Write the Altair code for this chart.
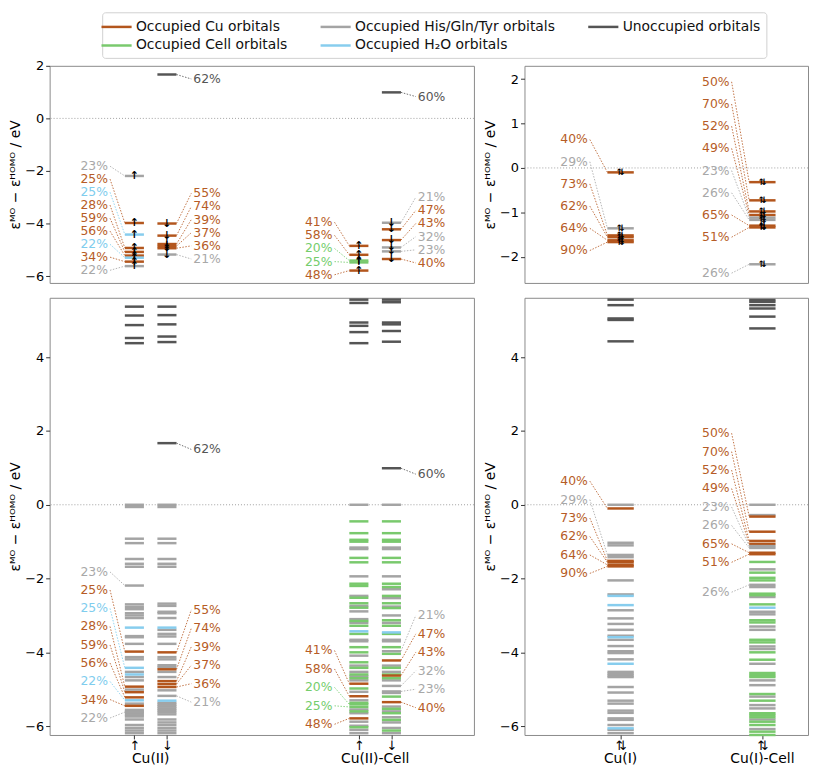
import altair as alt
import pandas as pd

# ---------------- categories & colours (legend order = matplotlib column order) ----------------
CATS = ["Occupied Cu orbitals", "Occupied Cell orbitals", "Occupied His/Gln/Tyr orbitals",
        "Occupied H\u2082O orbitals", "Unoccupied orbitals"]
LINE_COLORS = ["#b3561d", "#79c96d", "#a4a4a4", "#87cdee", "#555555"]
TEXT_COLORS = ["#b65c26", "#74cd6c", "#a8a8a8", "#7fcdee", "#555555"]
CAT = {"cu": CATS[0], "cell": CATS[1], "his": CATS[2], "h2o": CATS[3], "un": CATS[4]}

# ---------------- Cu(II) spin-up ----------------
cu2_up_un = [5.37, 5.13, 4.87, 4.52, 4.38]
cu2_up_his = [0.0, -0.06, -0.92, -1.04, -1.47, -1.60, -1.68, -2.70, -2.77, -2.83, -2.94,
              -3.00, -3.07, -3.56, -3.59, -3.77, -4.13, -4.19, -4.53, -4.67, -4.76, -5.01,
              -5.39, -5.56, -5.60, -5.65, -5.70, -5.74, -5.82, -5.97, -6.05, -6.12, -6.19]
cu2_up_h2o = [-3.33, -4.60]
cu2_up_lab_e = [-2.19, -3.98, -4.42, -4.93, -5.08, -5.22, -5.30, -5.45, -5.62]
cu2_up_lab_cat = ["his", "cu", "h2o", "cu", "cu", "cu", "h2o", "cu", "his"]
cu2_up_lab_txt = ["23%", "25%", "25%", "28%", "59%", "56%", "22%", "34%", "22%"]
cu2_up_lab_y = [-1.82, -2.31, -2.81, -3.30, -3.80, -4.29, -4.79, -5.28, -5.78]

# ---------------- Cu(II) spin-down ----------------
cu2_dn_un = [5.37, 5.14, 4.89, 4.56, 4.41]
cu2_dn_his = [0.0, -0.06, -0.92, -1.04, -1.47, -1.60, -1.68, -2.68, -2.74, -2.90, -2.94,
              -3.07, -3.39, -3.50, -3.57, -3.77, -4.13, -4.19, -4.35, -4.40, -4.53, -4.67,
              -5.03, -5.37, -5.42, -5.47, -5.52, -5.57, -5.62, -5.68, -5.82, -5.90, -5.97,
              -6.05, -6.12, -6.19]
cu2_dn_h2o = [-3.33, -5.31]
cu2_dn_lab_e = [1.67, -4.00, -4.46, -4.78, -4.86, -4.94, -5.18]
cu2_dn_lab_cat = ["un", "cu", "cu", "cu", "cu", "cu", "his"]
cu2_dn_lab_txt = ["62%", "55%", "74%", "39%", "37%", "36%", "21%"]
cu2_dn_lab_y = [1.50, -2.85, -3.35, -3.85, -4.35, -4.85, -5.35]

# ---------------- Cu(II)-Cell spin-up ----------------
cc2_up_un = [5.56, 5.47, 4.94, 4.85, 4.68, 4.38]
cc2_up_his = [0.0, -1.16, -1.20, -1.94, -2.47, -2.74, -2.89, -3.10, -3.20, -3.66, -3.70,
              -4.09, -4.36, -4.53, -4.65, -4.76, -5.07, -5.30, -5.55, -5.65, -5.88, -5.99,
              -6.10, -6.19]
cc2_up_cell = [-0.45, -0.77, -0.95, -1.00, -1.44, -1.56, -2.14, -2.20, -2.52, -2.67, -2.79,
               -3.15, -3.28, -3.50, -3.86, -4.00, -4.27, -4.42, -4.60, -4.70, -4.98, -5.37,
               -5.60, -6.03]
cc2_up_h2o = [-3.43]
cc2_up_lab_e = [-4.85, -5.19, -5.41, -5.48, -5.79]
cc2_up_lab_cat = ["cu", "cu", "cell", "cell", "cu"]
cc2_up_lab_txt = ["41%", "58%", "20%", "25%", "48%"]
cc2_up_lab_y = [-3.95, -4.45, -4.95, -5.45, -5.95]

# ---------------- Cu(II)-Cell spin-down ----------------
cc2_dn_un = [5.56, 5.49, 4.94, 4.89, 4.71, 4.42]
cc2_dn_his = [0.0, -1.16, -1.20, -1.94, -2.29, -2.53, -2.76, -3.00, -3.20, -3.66, -3.70,
              -4.36, -4.53, -4.76, -5.10, -5.47, -5.60, -5.76, -5.90, -6.05, -6.19]
cc2_dn_cell = [-0.45, -0.77, -0.95, -1.00, -1.44, -1.56, -2.14, -2.23, -2.47, -2.67, -2.80,
               -3.13, -3.28, -3.50, -3.86, -4.04, -4.42, -4.60, -4.70, -5.20, -5.53, -5.65,
               -5.83, -6.12]
cc2_dn_h2o = [-3.46]
cc2_dn_lab_e = [0.99, -3.97, -4.22, -4.63, -4.91, -5.06, -5.35]
cc2_dn_lab_cat = ["un", "his", "cu", "cu", "his", "his", "cu"]
cc2_dn_lab_txt = ["60%", "21%", "47%", "43%", "32%", "23%", "40%"]
cc2_dn_lab_y = [0.83, -3.00, -3.50, -4.00, -4.50, -5.00, -5.50]

# ---------------- Cu(I) ----------------
cu1_un = [5.56, 5.41, 5.05, 5.01, 4.43]
cu1_his = [0.0, -1.03, -1.10, -1.42, -2.05, -2.43, -2.86, -3.08, -3.23, -3.39, -3.55, -3.66,
           -3.83, -3.97, -4.02, -4.19, -4.53, -4.58, -4.63, -4.67, -4.94, -5.09, -5.31,
           -5.39, -5.58, -5.64, -5.79, -5.83, -5.97, -6.10, -6.19]
cu1_h2o = [-2.47, -2.72, -3.59, -4.31, -6.06]
cu1_lab_e = [-0.10, -1.36, -1.52, -1.56, -1.63, -1.67]
cu1_lab_cat = ["cu", "his", "cu", "cu", "cu", "cu"]
cu1_lab_txt = ["40%", "29%", "73%", "62%", "64%", "90%"]
cu1_lab_y = [0.64, 0.14, -0.36, -0.86, -1.36, -1.86]

# ---------------- Cu(I)-Cell ----------------
cc1_un = [5.55, 5.50, 5.41, 5.32, 5.10, 4.78]
cc1_his = [0.0, -0.28, -1.75, -2.23, -2.50, -2.90, -2.97, -3.30, -3.39, -3.84, -3.91, -4.31,
           -4.76, -4.89, -5.20, -5.43, -5.52, -5.82, -6.08]
cc1_cell = [-1.55, -1.84, -1.98, -2.05, -2.41, -2.45, -2.70, -3.13, -3.19, -3.66, -3.73,
            -4.00, -4.20, -4.56, -4.62, -4.67, -5.13, -5.31, -5.65, -5.70, -5.76, -5.88,
            -5.97, -6.15, -6.24]
cc1_h2o = [-2.79]
cc1_lab_e = [-0.32, -0.73, -0.98, -1.06, -1.12, -1.17, -1.30, -1.34, -2.17]
cc1_lab_cat = ["cu", "cu", "cu", "cu", "his", "his", "cu", "cu", "his"]
cc1_lab_txt = ["50%", "70%", "52%", "49%", "23%", "26%", "65%", "51%", "26%"]
cc1_lab_y = [1.94, 1.44, 0.94, 0.44, -0.06, -0.56, -1.06, -1.56, -2.37]

# ---------------- column layout ----------------
LEFT_COLS = [
    dict(x=0.855, side="left", arrow="\u2191",
         groups=[("his", cu2_up_his), ("h2o", cu2_up_h2o), ("un", cu2_up_un)],
         lab=(cu2_up_lab_e, cu2_up_lab_cat, cu2_up_lab_txt, cu2_up_lab_y)),
    dict(x=1.145, side="right", arrow="\u2193",
         groups=[("his", cu2_dn_his), ("h2o", cu2_dn_h2o), ("un", cu2_dn_un)],
         lab=(cu2_dn_lab_e, cu2_dn_lab_cat, cu2_dn_lab_txt, cu2_dn_lab_y)),
    dict(x=2.855, side="left", arrow="\u2191",
         groups=[("his", cc2_up_his), ("cell", cc2_up_cell), ("h2o", cc2_up_h2o), ("un", cc2_up_un)],
         lab=(cc2_up_lab_e, cc2_up_lab_cat, cc2_up_lab_txt, cc2_up_lab_y)),
    dict(x=3.145, side="right", arrow="\u2193",
         groups=[("his", cc2_dn_his), ("cell", cc2_dn_cell), ("h2o", cc2_dn_h2o), ("un", cc2_dn_un)],
         lab=(cc2_dn_lab_e, cc2_dn_lab_cat, cc2_dn_lab_txt, cc2_dn_lab_y)),
]
RIGHT_COLS = [
    dict(x=1.0, side="left", arrow="\u21c5",
         groups=[("his", cu1_his), ("h2o", cu1_h2o), ("un", cu1_un)],
         lab=(cu1_lab_e, cu1_lab_cat, cu1_lab_txt, cu1_lab_y)),
    dict(x=2.0, side="left", arrow="\u21c5",
         groups=[("his", cc1_his), ("cell", cc1_cell), ("h2o", cc1_h2o), ("un", cc1_un)],
         lab=(cc1_lab_e, cc1_lab_cat, cc1_lab_txt, cc1_lab_y)),
]
LEFT_GROUPS = pd.DataFrame({"x": [1.0, 3.0], "t": ["Cu(II)", "Cu(II)-Cell"]})
RIGHT_GROUPS = pd.DataFrame({"x": [1.0, 2.0], "t": ["Cu(I)", "Cu(I)-Cell"]})

YTITLE = "\u03b5\u1d39\u1d3c \u2212 \u03b5\u1d34\u1d3c\u1d39\u1d3c / eV"
FONT = "DejaVu Sans"

STROKE_SCALE = alt.Scale(domain=CATS, range=LINE_COLORS)
TEXT_SCALE = alt.Scale(domain=CATS, range=TEXT_COLORS)
LEGEND = alt.Legend(title=None, orient="none", legendX=53, legendY=-54, columns=3,
                    direction="vertical",
                    symbolType="M-1.9,0H1.9", symbolStrokeWidth=2.5, symbolSize=256,
                    labelFontSize=14, labelFont=FONT, labelColor="#111111", labelLimit=400,
                    labelOffset=10, columnPadding=28, rowPadding=2, padding=5,
                    strokeColor="#d0d0d0", fillColor="white", cornerRadius=3)


def build(cols, hw, off_txt, off_con, top):
    lev, lab_l, lab_r, con, arr = [], [], [], [], []
    if not top:
        for c in cols:
            for key, vals in c["groups"]:
                for e in vals:
                    lev.append(dict(x=c["x"] - hw, x2=c["x"] + hw, e=e, cat=CAT[key]))
    for c in cols:
        x = c["x"]
        le, lc, lt, ly = c["lab"]
        for e, k, t, y in zip(le, lc, lt, ly):
            lev.append(dict(x=x - hw, x2=x + hw, e=e, cat=CAT[k]))
            if c["side"] == "left":
                lab_l.append(dict(x=x - off_txt, y=y, t=t, cat=CAT[k]))
                con.append(dict(x=x - off_con, y=y, x2=x - hw, y2=e, cat=CAT[k]))
            else:
                lab_r.append(dict(x=x + off_txt, y=y, t=t, cat=CAT[k]))
                con.append(dict(x=x + hw, y=e, x2=x + off_con, y2=y, cat=CAT[k]))
            if top and k != "un":
                arr.append(dict(x=x, e=e, a=c["arrow"]))
    return lev, lab_l, lab_r, con, arr


def panel(cols, hw, off_txt, off_con, top, xdom, ydom, yticks, w, h, label_expr, groups, arrow_size):
    lev, lab_l, lab_r, con, arr = build(cols, hw, off_txt, off_con, top)
    xs = alt.Scale(domain=xdom, nice=False, zero=False)
    ys = alt.Scale(domain=ydom, nice=False, zero=False)
    yaxis = alt.Axis(values=yticks, title=YTITLE, grid=False, domain=False, tickSize=4,
                     labelPadding=2, titlePadding=2, labelColor="black")
    if top:
        xaxis = None
    else:
        xaxis = alt.Axis(values=[c["x"] for c in cols], labelExpr=label_expr, title=None,
                         grid=False, domain=False, tickSize=4, labelPadding=1,
                         labelAngle=0, labelFontSize=13, labelColor="black",
                         tickColor="#333333")

    def X(f):
        return alt.X(f, scale=xs, axis=xaxis)

    def Y(f):
        return alt.Y(f, scale=ys, axis=yaxis)

    layers = []
    layers.append(alt.Chart(pd.DataFrame({"y": [0.0]})).mark_rule(
        color="#a0a0a0", strokeDash=[1, 2], strokeWidth=1).encode(y=Y("y:Q")))
    layers.append(alt.Chart(pd.DataFrame(lev)).mark_rule(strokeWidth=2.5).encode(
        x=X("x:Q"), x2="x2:Q", y=Y("e:Q"),
        stroke=alt.Stroke("cat:N", scale=STROKE_SCALE, legend=LEGEND)))
    layers.append(alt.Chart(pd.DataFrame(con)).mark_rule(
        strokeDash=[1.5, 1.5], strokeWidth=1, opacity=0.85).encode(
        x=X("x:Q"), x2="x2:Q", y=Y("y:Q"), y2="y2:Q",
        color=alt.Color("cat:N", scale=TEXT_SCALE, legend=None)))
    if lab_l:
        layers.append(alt.Chart(pd.DataFrame(lab_l)).mark_text(
            align="right", baseline="middle", fontSize=12.5, font=FONT).encode(
            x=X("x:Q"), y=Y("y:Q"), text="t:N",
            color=alt.Color("cat:N", scale=TEXT_SCALE, legend=None)))
    if lab_r:
        layers.append(alt.Chart(pd.DataFrame(lab_r)).mark_text(
            align="left", baseline="middle", fontSize=12.5, font=FONT).encode(
            x=X("x:Q"), y=Y("y:Q"), text="t:N",
            color=alt.Color("cat:N", scale=TEXT_SCALE, legend=None)))
    if top and arr:
        layers.append(alt.Chart(pd.DataFrame(arr)).mark_text(
            align="center", baseline="middle", fontSize=arrow_size, font=FONT,
            color="black", fontWeight="bold").encode(x=X("x:Q"), y=Y("e:Q"), text="a:N"))
    if not top:
        layers.append(alt.Chart(groups).mark_text(
            align="center", baseline="middle", fontSize=14, font=FONT, color="black").encode(
            x=X("x:Q"), y=alt.value(h + 24), text="t:N"))
    return alt.layer(*layers).properties(width=w, height=h)


L_DOM = [0.1, 3.88]
R_DOM = [0.322, 2.322]
L_EXPR = "(datum.value < 1 || (datum.value > 2 && datum.value < 3)) ? '\u2191' : '\u2193'"
R_EXPR = "'\u21c5'"

tl = panel(LEFT_COLS, 0.085, 0.235, 0.217, True, L_DOM, [-6.26, 2.0], [-6, -4, -2, 0, 2],
           428, 219, L_EXPR, LEFT_GROUPS, 11)
bl = panel(LEFT_COLS, 0.085, 0.235, 0.217, False, L_DOM, [-6.24, 5.61], [-6, -4, -2, 0, 2, 4],
           428, 441, L_EXPR, LEFT_GROUPS, 11)
tr = panel(RIGHT_COLS, 0.093, 0.231, 0.217, True, R_DOM, [-2.59, 2.3], [-2, -1, 0, 1, 2],
           286, 219, R_EXPR, RIGHT_GROUPS, 9)
br = panel(RIGHT_COLS, 0.093, 0.231, 0.217, False, R_DOM, [-6.24, 5.61], [-6, -4, -2, 0, 2, 4],
           286, 441, R_EXPR, RIGHT_GROUPS, 9)

chart = alt.vconcat(
    alt.hconcat(tl, tr, spacing=8),
    alt.hconcat(bl, br, spacing=8),
    spacing=13,
).properties(padding=0).configure(font=FONT).configure_view(
    stroke="#8a8a8a", strokeWidth=1
).configure_axis(
    labelFontSize=13, titleFontSize=14, titleFontWeight="normal",
    labelColor="#000000", titleColor="#000000", tickColor="#333333", labelFont=FONT,
    titleFont=FONT
)

chart.save("out.html", embed_options={"renderer": "svg", "actions": False})
